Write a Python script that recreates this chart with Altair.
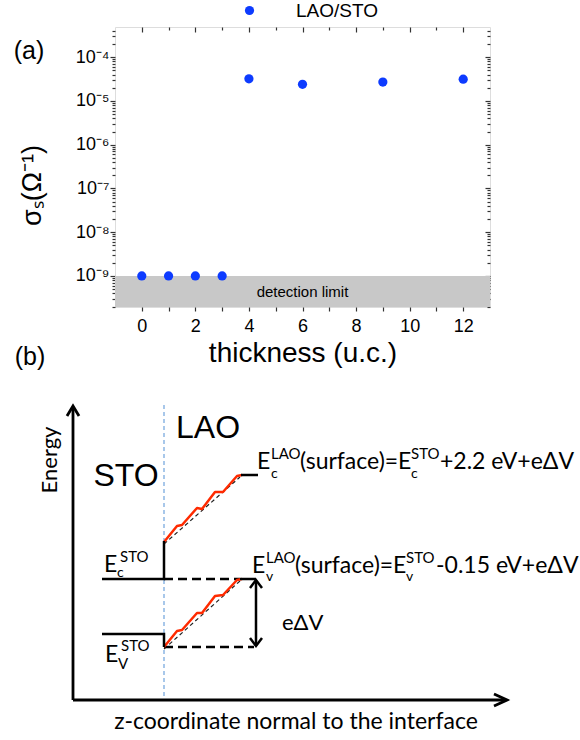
import altair as alt
import pandas as pd

# ---------------- Panel (a) data ----------------
thickness = [0, 1, 2, 3, 4, 6, 9, 12]
sigma_s = [1.0e-9, 1.0e-9, 1.0e-9, 1.0e-9, 3.2e-5, 2.4e-5, 2.7e-5, 3.15e-5]
series_name = "LAO/STO"
detection_limit = 1e-9
detection_text = "detection limit"
detection_text_pos = (6, 4.4e-10)
x_domain = [-1, 13]
y_domain = [10 ** -9.71, 10 ** -3.31]
x_tick_values = list(range(0, 13))
y_exponents = [-9, -8, -7, -6, -5, -4]
y_tick_labels = ["10⁻⁹", "10⁻⁸", "10⁻⁷", "10⁻⁶", "10⁻⁵", "10⁻⁴"]
x_title = "thickness (u.c.)"
y_title = "σₛ(Ω⁻¹)"

# ---------------- Panel (b) diagram data (z along interface normal, E energy) ----------------
axis_lines = {
    "energy_axis": [(0, 0), (0, 293)],
    "energy_head": [(-6, 284), (0, 294), (6, 284)],
    "z_axis": [(0, 0), (433, 0)],
    "z_head": [(421, 6), (434, 0), (421, -6)],
}
solid_levels = {
    "ec_sto": [(29, 121), (91, 121), (91, 159)],
    "ev_sto": [(29, 66), (91, 66), (91, 53)],
    "ec_lao_end": [(168, 225), (185, 225)],
    "ev_lao_end": [(167, 121), (183, 121)],
    "dv_shaft": [(183, 120), (183, 54)],
    "dv_head_top": [(177, 112), (183, 120), (189, 112)],
    "dv_head_bot": [(177, 62), (183, 54), (189, 62)],
}
dashed_levels = {
    "ec_ref": [(91, 121), (167, 121)],
    "ev_ref": [(91, 53), (181, 53)],
}
trend_lines = {
    "ec_trend": [(91, 156), (167, 223)],
    "ev_trend": [(91, 51), (167, 119)],
}
red_bands = {
    "ec_red": [(91, 158), (104, 174), (109, 175), (124, 192), (129, 191),
               (142, 208), (150, 208), (164, 224), (169, 225)],
    "ev_red": [(91, 53), (104, 69), (109, 70), (124, 87), (129, 87),
               (142, 104), (150, 105), (164, 120), (169, 121)],
}
interface_line = {"interface": [(91, 295), (91, 0)]}

# text pieces: (text, z, E, size)
big_labels = [("(a)", -44, 649, 25), ("(b)", -43, 343, 25),
              ("LAO", 135, 272, 32), ("STO", 53, 224, 32)]
formula_pieces = [
    ("E", 184, 231, 23), ("c", 198, 222, 14), ("LAO", 198, 241, 15),
    ("(surface)=", 227, 231, 23), ("E", 325, 231, 23), ("c", 338, 222, 14),
    ("STO", 338, 241, 15), ("+2.2 eV+eΔV", 367, 231, 23),
    ("E", 179, 127, 23), ("v", 193, 119, 14), ("LAO", 193, 137, 15),
    ("(surface)=", 222, 127, 23), ("E", 320, 127, 23), ("v", 333, 119, 14),
    ("STO", 333, 137, 15), ("-0.15 eV+eΔV", 363, 127, 23),
    ("E", 31, 128, 23), ("c", 44, 123, 14), ("STO", 47, 138, 15),
    ("E", 32, 38, 23), ("V", 45, 31, 15), ("STO", 48, 49, 15),
    ("eΔV", 209, 70, 22),
]
axis_texts = [("Energy", -23, 240, 22, 270),
              ("z-coordinate normal to the interface", 223, -22, 23, 0)]

# ---------------- styling ----------------
BLUE = "#0d3bff"
GREY = "#c8c8c8"
FRAME = "#333333"
ARIAL = "Liberation Sans"
CAL = "Lato"
W, H = 375, 280

# ---------------- panel (a) ----------------
pts = pd.DataFrame({"thickness": thickness, "sigma": sigma_s, "series": series_name})
band_df = pd.DataFrame({"x0": [x_domain[0]], "x1": [x_domain[1]],
                        "lo": [y_domain[0]], "hi": [detection_limit]})
dl_df = pd.DataFrame({"x": [detection_text_pos[0]], "y": [detection_text_pos[1]],
                      "t": [detection_text]})

xa = alt.Scale(domain=x_domain, nice=False, zero=False)
ya = alt.Scale(type="log", domain=y_domain, nice=False)

y_major = [10.0 ** e for e in y_exponents]
y_minor = [k * 10.0 ** e for e in range(-10, -3) for k in range(2, 10)
           if y_domain[0] <= k * 10.0 ** e <= y_domain[1]]
y_label_expr = " : ".join(
    f"abs(log(datum.value)/LN10 - ({e})) < 0.01 ? '{lab}'"
    for e, lab in zip(y_exponents, y_tick_labels)) + " : ''"

common = dict(domain=False, grid=False, tickColor=FRAME, tickWidth=1.2)

ax_bottom = alt.Axis(orient="bottom", values=x_tick_values, tickSize=4,
                     labelExpr="datum.value % 2 == 0 ? datum.label : ''",
                     labelFont=ARIAL, labelFontSize=18, labelColor="black",
                     labelPadding=6, title=x_title, titleFont=ARIAL,
                     titleFontSize=28, titleFontWeight="normal", titleColor="black",
                     titleX=W / 2, titleY=46, titleBaseline="middle", **common)
ax_left = alt.Axis(orient="left", values=y_major, tickSize=5, labelExpr=y_label_expr,
                   labelFont=ARIAL, labelFontSize=18, labelColor="black",
                   labelPadding=1, title=y_title, titleFont=ARIAL, titleFontSize=27,
                   titleFontWeight="normal", titleColor="black", titleX=-83,
                   titleY=158, titleAngle=270, titleAlign="center",
                   titleBaseline="middle", **common)
ax_left_minor = alt.Axis(orient="left", values=y_minor, tickSize=3, labels=False,
                         title=None, **common)
ax_top_major = alt.Axis(orient="top", values=[v for v in x_tick_values if v % 2 == 0],
                        tickSize=5, offset=-5, labels=False, title=None, **common)
ax_top_minor = alt.Axis(orient="top", values=[v for v in x_tick_values if v % 2 == 1],
                        tickSize=3, offset=-3, labels=False, title=None, **common)
ax_right_major = alt.Axis(orient="right", values=y_major, tickSize=5, offset=-5,
                          labels=False, title=None, **common)
ax_right_minor = alt.Axis(orient="right", values=y_minor, tickSize=3, offset=-3,
                          labels=False, title=None, **common)

band = alt.Chart(band_df).mark_rect(color=GREY).encode(
    x=alt.X("x0:Q", scale=xa, axis=ax_top_major), x2="x1:Q",
    y=alt.Y("lo:Q", scale=ya, axis=ax_right_major), y2="hi:Q")
dtext = alt.Chart(dl_df).mark_text(font=ARIAL, fontSize=15, color="black").encode(
    x=alt.X("x:Q", scale=xa, axis=ax_top_minor),
    y=alt.Y("y:Q", scale=ya, axis=ax_right_minor), text="t:N")
scatter = alt.Chart(pts).mark_circle(size=85, opacity=1).encode(
    x=alt.X("thickness:Q", scale=xa, axis=ax_bottom),
    y=alt.Y("sigma:Q", scale=ya, axis=ax_left),
    color=alt.Color("series:N", scale=alt.Scale(range=[BLUE]),
                    legend=alt.Legend(orient="none", legendX=125, legendY=-26,
                                      title=None, labelFont=ARIAL, labelFontSize=19,
                                      labelColor="black", symbolType="circle",
                                      symbolSize=85, symbolStrokeWidth=0,
                                      symbolOpacity=1, labelOffset=37, padding=0)))
ghost = alt.Chart(pts).mark_circle(opacity=0).encode(
    x=alt.X("thickness:Q", scale=xa, axis=None),
    y=alt.Y("sigma:Q", scale=ya, axis=ax_left_minor))

panel_a = alt.layer(band, dtext, scatter, ghost).resolve_axis(x="independent", y="independent")

# ---------------- panel (b) ----------------
xs = alt.Scale(domain=[0, 100], range=[-42, 58], nice=False, zero=False)
ys = alt.Scale(domain=[0, 100], range=[673, 573], nice=False, zero=False)


def seg_df(d):
    rows = []
    for name, ptsl in d.items():
        for i, (z, e) in enumerate(ptsl):
            rows.append({"seg": name, "i": i, "z": z, "E": e})
    return pd.DataFrame(rows)


def line_layer(d, **mk):
    return alt.Chart(seg_df(d)).mark_line(**mk).encode(
        x=alt.X("z:Q", scale=xs, axis=None),
        y=alt.Y("E:Q", scale=ys, axis=None),
        detail="seg:N", order="i:Q")


def text_df(items):
    return pd.DataFrame(items, columns=["t", "z", "E", "fs"])


l_interface = line_layer(interface_line, color="#6fa3dc", strokeWidth=1.2, strokeDash=[4, 3])
l_axes = line_layer(axis_lines, color="black", strokeWidth=2.8, strokeJoin="miter")
l_solid = line_layer(solid_levels, color="black", strokeWidth=2.5, strokeJoin="miter")
l_dashed = line_layer(dashed_levels, color="black", strokeWidth=2.5, strokeDash=[9, 5])
l_trend = line_layer(trend_lines, color="#222222", strokeWidth=1.2, strokeDash=[4, 3])
l_red = line_layer(red_bands, color="#ff2a00", strokeWidth=2.5, strokeJoin="round")

t_big = alt.Chart(text_df(big_labels)).mark_text(
    font=ARIAL, align="center", baseline="middle", color="black").encode(
    x=alt.X("z:Q", scale=xs, axis=None), y=alt.Y("E:Q", scale=ys, axis=None),
    text="t:N", size=alt.Size("fs:Q", scale=None))
t_formula = alt.Chart(text_df(formula_pieces)).mark_text(
    font=CAL, align="left", baseline="alphabetic", color="black").encode(
    x=alt.X("z:Q", scale=xs, axis=None), y=alt.Y("E:Q", scale=ys, axis=None),
    text="t:N", size=alt.Size("fs:Q", scale=None))
t_axes = alt.Chart(pd.DataFrame(axis_texts, columns=["t", "z", "E", "fs", "ang"])).mark_text(
    font=CAL, align="center", baseline="middle", color="black").encode(
    x=alt.X("z:Q", scale=xs, axis=None), y=alt.Y("E:Q", scale=ys, axis=None),
    text="t:N", size=alt.Size("fs:Q", scale=None), angle=alt.Angle("ang:Q", scale=None))

panel_b = alt.layer(l_interface, l_trend, l_dashed, l_red, l_solid, l_axes,
                    t_big, t_formula, t_axes)

chart = alt.layer(panel_a, panel_b).resolve_scale(
    x="independent", y="independent"
).properties(
    width=W, height=H,
    autosize=alt.AutoSizeParams(type="none"),
    padding={"left": 115, "top": 27, "right": 580 - 115 - W, "bottom": 740 - 27 - H},
).configure_view(stroke=FRAME, strokeWidth=1.5).configure(background="white")

chart.save("out.html", embed_options={"renderer": "svg", "actions": False})
